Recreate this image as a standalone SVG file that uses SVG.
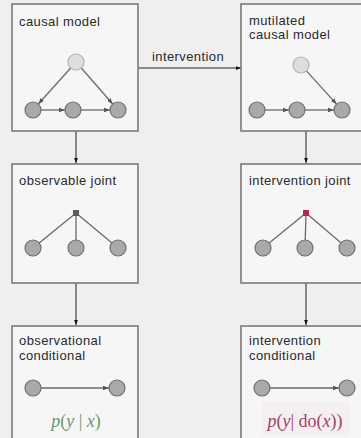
<svg xmlns="http://www.w3.org/2000/svg" width="361" height="438" viewBox="0 0 361 438">
<defs>
<style>
.box{fill:#f6f6f6;stroke:#7a7a7a;stroke-width:1.6}
.lbl{font-family:"Liberation Sans",Arial,sans-serif;font-size:13px;letter-spacing:0.4px;fill:#2a2a2a}
.n{fill:#a9a9a9;stroke:#707070;stroke-width:1.2}
.nl{fill:#dedede;stroke:#b2b2b2;stroke-width:1.2}
.e{stroke:#6a6a6a;stroke-width:1.3;fill:none}
.c{stroke:#222;stroke-width:1;fill:none}
.m{font-family:"Liberation Serif","Times New Roman",serif;font-size:18px}
</style>
<marker id="ah" viewBox="0 0 8 6" refX="8" refY="3" markerWidth="6" markerHeight="4.5" markerUnits="userSpaceOnUse" orient="auto"><path d="M0,0 L8,3 L0,6 z" fill="#555"/></marker>
<marker id="ac" viewBox="0 0 8 6" refX="8" refY="3" markerWidth="5" markerHeight="4" markerUnits="userSpaceOnUse" orient="auto"><path d="M0,0 L8,3 L0,6 z" fill="#111"/></marker>
</defs>
<rect width="361" height="438" fill="#efefef"/>

<g id="connectors">
<line class="c" x1="76" y1="131" x2="76" y2="163" marker-end="url(#ac)"/>
<line class="c" x1="76" y1="283" x2="76" y2="325" marker-end="url(#ac)"/>
<line class="c" x1="306" y1="131" x2="306" y2="163" marker-end="url(#ac)"/>
<line class="c" x1="306" y1="283" x2="306" y2="325" marker-end="url(#ac)"/>
<line class="c" x1="138" y1="68" x2="241" y2="68" marker-end="url(#ac)"/>
<text class="lbl" x="152" y="61">intervention</text>
</g>

<g id="causal-model">
<rect class="box" x="12" y="4" width="126" height="127"/>
<text class="lbl" x="19" y="26">causal model</text>
<line class="e" x1="70.7" y1="68" x2="38.3" y2="104" marker-end="url(#ah)"/>
<line class="e" x1="81.3" y1="68" x2="112.7" y2="104" marker-end="url(#ah)"/>
<line class="e" x1="41" y1="110" x2="65" y2="110" marker-end="url(#ah)"/>
<line class="e" x1="81" y1="110" x2="110" y2="110" marker-end="url(#ah)"/>
<circle class="nl" cx="76" cy="62" r="8"/>
<circle class="n" cx="33" cy="110" r="8"/>
<circle class="n" cx="73" cy="110" r="8"/>
<circle class="n" cx="118" cy="110" r="8"/>
</g>

<g id="mutilated-causal-model">
<rect class="box" x="241" y="4" width="128" height="127"/>
<text class="lbl" x="249" y="25">mutilated</text>
<text class="lbl" x="249" y="39">causal model</text>
<line class="e" x1="306.4" y1="70.9" x2="336.6" y2="104.1" marker-end="url(#ah)"/>
<line class="e" x1="265" y1="110" x2="289" y2="110" marker-end="url(#ah)"/>
<line class="e" x1="305" y1="110" x2="334" y2="110" marker-end="url(#ah)"/>
<circle class="nl" cx="301" cy="65" r="8"/>
<circle class="n" cx="257" cy="110" r="8"/>
<circle class="n" cx="297" cy="110" r="8"/>
<circle class="n" cx="342" cy="110" r="8"/>
</g>

<g id="observable-joint">
<rect class="box" x="12" y="164" width="126" height="119"/>
<text class="lbl" x="19" y="185">observable joint</text>
<line class="e" x1="76" y1="213" x2="33" y2="248"/>
<line class="e" x1="76" y1="213" x2="76" y2="248"/>
<line class="e" x1="76" y1="213" x2="118" y2="248"/>
<rect x="73" y="210" width="6" height="6" fill="#5a5a5a"/>
<circle class="n" cx="33" cy="248" r="8"/>
<circle class="n" cx="76" cy="248" r="8"/>
<circle class="n" cx="118" cy="248" r="8"/>
</g>

<g id="intervention-joint">
<rect class="box" x="241" y="164" width="128" height="119"/>
<text class="lbl" x="249" y="185">intervention joint</text>
<line class="e" x1="306" y1="213" x2="263" y2="248"/>
<line class="e" x1="306" y1="213" x2="305" y2="248"/>
<line class="e" x1="306" y1="213" x2="347" y2="248"/>
<rect x="303" y="210" width="6" height="6" fill="#b8264a"/>
<circle class="n" cx="263" cy="248" r="8"/>
<circle class="n" cx="305" cy="248" r="8"/>
<circle class="n" cx="347" cy="248" r="8"/>
</g>

<g id="observational-conditional">
<rect class="box" x="12" y="326" width="126" height="120"/>
<text class="lbl" x="19" y="345">observational</text>
<text class="lbl" x="19" y="360">conditional</text>
<line class="e" x1="41" y1="388" x2="109" y2="388" marker-end="url(#ah)"/>
<circle class="n" cx="33" cy="388" r="8"/>
<circle class="n" cx="117" cy="388" r="8"/>
<text class="m" x="76" y="427" text-anchor="middle" fill="#6a9a6a"><tspan font-style="italic">p</tspan>(<tspan font-style="italic">y</tspan> | <tspan font-style="italic">x</tspan>)</text>
</g>

<g id="intervention-conditional">
<rect class="box" x="241" y="326" width="128" height="120"/>
<rect x="262" y="402" width="88" height="34" fill="#f5eff1"/>
<text class="lbl" x="249" y="345">intervention</text>
<text class="lbl" x="249" y="360">conditional</text>
<line class="e" x1="270" y1="388" x2="339" y2="388" marker-end="url(#ah)"/>
<circle class="n" cx="262" cy="388" r="8"/>
<circle class="n" cx="347" cy="388" r="8"/>
<text class="m" x="305" y="427" text-anchor="middle" fill="#9c4466"><tspan font-style="italic">p</tspan>(<tspan font-style="italic">y</tspan>| do(<tspan font-style="italic">x</tspan>))</text>
</g>
</svg>
